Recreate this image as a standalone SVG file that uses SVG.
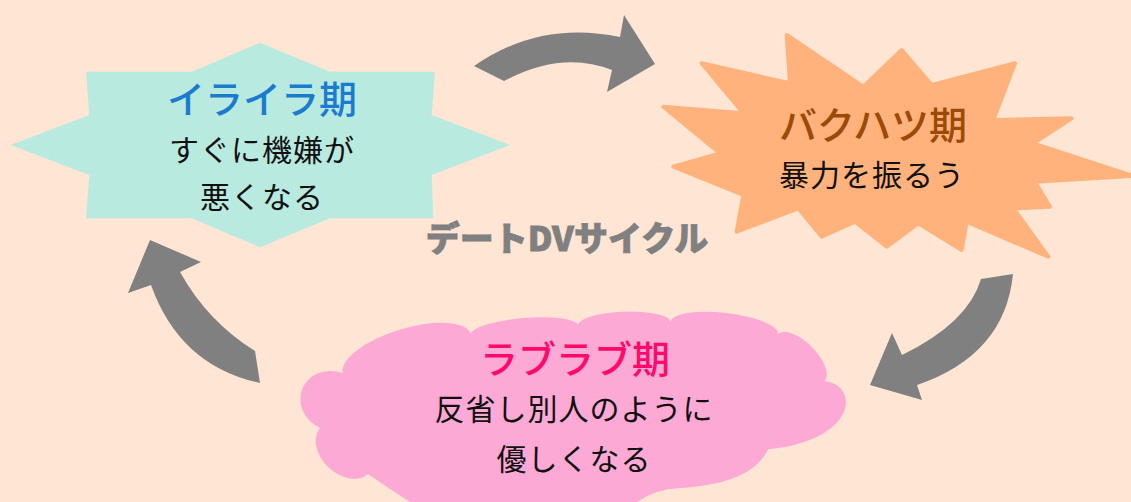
<svg xmlns="http://www.w3.org/2000/svg" width="1131" height="502" viewBox="0 0 1131 502">
<style>
.t{font-family:"Noto Sans CJK JP","Noto Sans",sans-serif;text-anchor:middle}
.title{font-size:38px;font-weight:500}
.body{font-size:30px;fill:#111;letter-spacing:1px}
.arrow{fill:#808080}
</style>
<rect width="1131" height="502" fill="#FFE5D4"/>
<g id="connectors">
<path class="arrow" d="M474 66 Q540 20 620 37 L624 15 L655 64 L607 92 L612 70 Q562 50 504 81 Z"/>
<path class="arrow" d="M1013 274 Q1005 355 917 385 L922 400 L870 385 L892 333 L902 355 Q968 323 981 279 Z"/>
<path class="arrow" d="M260 383 Q180 366 151 285 L128 293 L150 240 L201 262 L180 272 Q208 322 255 351 Z"/>
</g>
<g id="iraira">
<polygon fill="#B9EADF" points="260,42.7 330,71.7 435,71.7 431.7,115 510,145 431.7,175 433.3,218.3 330,218.3 260,247.3 191.7,218.3 86,218.3 89.3,175 10.7,145 89.3,115 86,71.7 191.7,71.7"/>
<text class="t title" x="262" y="113" fill="#1B7CCF">イライラ期</text>
<text class="t body" x="262" y="161">すぐに機嫌が</text>
<text class="t body" x="262" y="208">悪くなる</text>
</g>
<g id="bakuhatsu">
<polygon fill="#FFB27B" stroke="#FFB27B" stroke-width="4" stroke-linejoin="round" points="786.7,35 863.3,86.7 901.7,50 931.7,85 1015,63.3 993.3,120 1071.7,118.3 1033.3,143.3 1133,176 1035,181.7 1050,206.7 1013.3,208.3 1048.3,256.7 966.7,221.7 961.7,250 918.3,223.3 886.7,246.7 855,221.7 821.7,236.7 798.3,208.3 736.7,231.7 743.3,195 673.3,166.7 720,153.3 663.3,106.7 743.3,113.3 701.7,63.3 790,83.3"/>
<text class="t title" x="873" y="139" fill="#9B4A07">バクハツ期</text>
<text class="t body" x="872" y="186">暴力を振るう</text>
</g>
<g id="loveove">
<path fill="#FDA9D5" d="M343 373.3 A66.8 25 -17.1 0 1 470.7 334 A53.9 12 -4.8 0 1 578 325 A46.4 12 -2 0 1 670.7 321.7 A54 15 6.5 0 1 778 334 A33 15 45.4 0 1 824.4 381 C860 385 858 440 768.3 449.3 C755 475 725 485 680 488 Q640 490 620 520 L440 520 Q405 500 368 474 A33.3 24 -136.2 0 1 320 428 A29.7 33 -67.2 0 1 343 373.3 Z"/>
<text class="t title" x="575" y="372.5" fill="#FF0A6A">ラブラブ期</text>
<text class="t body" x="574" y="419.5">反省し別人のように</text>
<text class="t body" x="574" y="469.5">優しくなる</text>
</g>
<g id="cycle-label">
<text class="t" x="567" y="251" font-size="34" font-weight="900" fill="#808080" stroke="#808080" stroke-width="0.8">デートDVサイクル</text>
</g>
</svg>
